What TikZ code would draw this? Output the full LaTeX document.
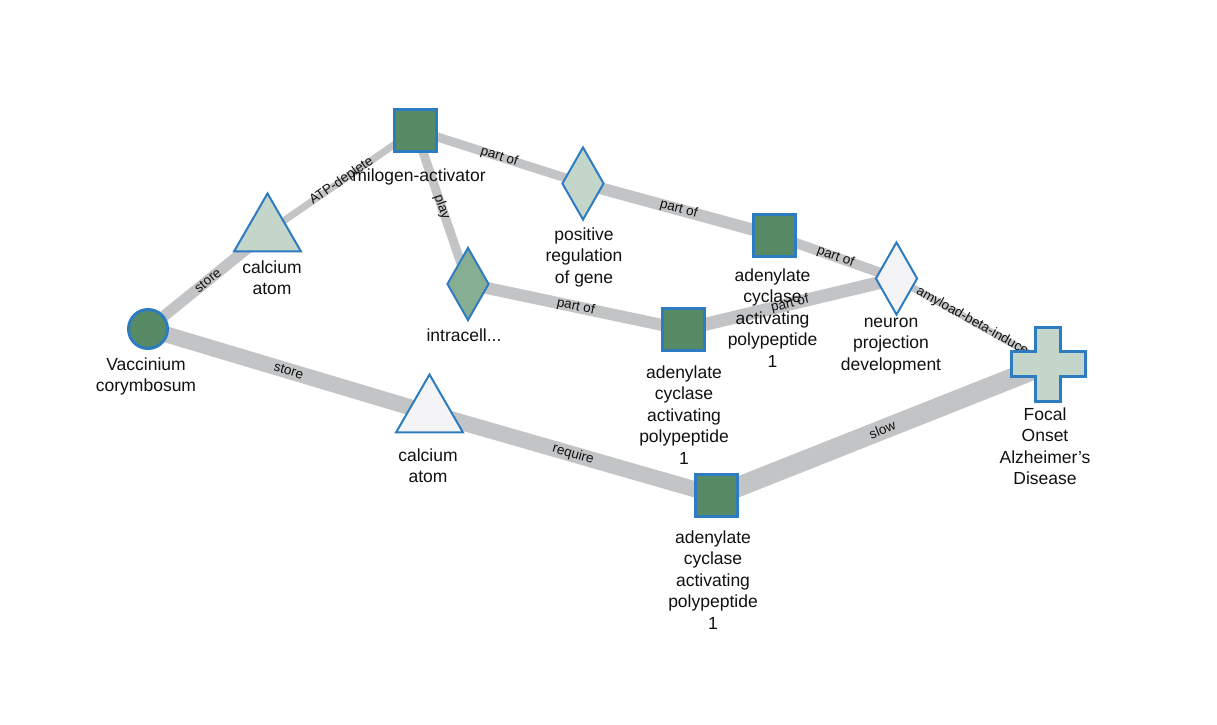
\documentclass[tikz,border=0pt]{standalone}
\usepackage{fontspec}
\setmainfont{Liberation Sans}
\usetikzlibrary{shapes.geometric,backgrounds}
\definecolor{dkgreen}{HTML}{568B66}
\definecolor{mdgreen}{HTML}{86AE92}
\definecolor{ltgreen}{HTML}{C4D6CA}
\definecolor{offwhite}{HTML}{F4F4F6}
\definecolor{nodeblue}{HTML}{2D7CC1}
\definecolor{edgegray}{HTML}{C3C4C6}
\definecolor{txt}{HTML}{111111}
\tikzset{
  sqbox/.style={rectangle, minimum size=42pt, inner sep=0pt, fill=dkgreen, draw=nodeblue, line width=3pt},
  circbox/.style={circle, minimum size=39pt, inner sep=0pt, fill=dkgreen, draw=nodeblue, line width=3pt},
  tribox/.style={regular polygon, regular polygon sides=3, minimum size=77pt, inner sep=0pt, draw=nodeblue, line width=2pt},
  diabox/.style={diamond, minimum width=42pt, minimum height=73pt, inner sep=0pt, draw=nodeblue, line width=2pt},
  crossbox/.style={fill=ltgreen, draw=nodeblue, line width=3pt, line join=miter},
  lbl/.style={anchor=north, align=center, inner sep=0pt, text=txt, font=\fontsize{17.5}{21.5}\selectfont},
  edge/.style={draw=edgegray},
  elbl/.style={midway, sloped, inner sep=1pt, text=txt, font=\fontsize{13.5}{16}\selectfont},
}
\begin{document}
\begin{tikzpicture}[x=1pt,y=-1pt]
\useasboundingbox (0,0) rectangle (1217,724);
% nodes
\node[circbox] (V) at (148,329) {};
\node[tribox, fill=ltgreen] (C1) at (267.5,232) {};
\node[tribox, fill=offwhite] (C2) at (429.5,413) {};
\node[sqbox] (M) at (415.5,130) {};
\node[diabox, fill=mdgreen] (I) at (468,284) {};
\node[diabox, fill=ltgreen] (P) at (583,183.5) {};
\node[sqbox] (A1) at (774.5,235.5) {};
\node[sqbox] (A2) at (683.5,329.5) {};
\node[diabox, fill=offwhite] (N) at (896.5,278.5) {};
\node[sqbox] (A3) at (716.5,495.5) {};
\node[circle, minimum size=74pt, inner sep=0pt] (F) at (1048,364) {};
\draw[crossbox] (F.center) ++(-12.75,-37) -- ++(25.5,0) -- ++(0,24.25) -- ++(24.25,0) -- ++(0,25.5) -- ++(-24.25,0) -- ++(0,24.25) -- ++(-25.5,0) -- ++(0,-24.25) -- ++(-24.25,0) -- ++(0,-25.5) -- ++(24.25,0) -- cycle;
% labels
\node[lbl] (V-l) at (146,355) {\strut Vaccinium\\corymbosum};
\node[lbl] (C1-l) at (272,258) {\strut calcium\\atom};
\node[lbl] (C2-l) at (428,446) {\strut calcium\\atom};
\node[lbl] (M-l) at (419,166) {\strut milogen-activator};
\node[lbl] (I-l) at (464,326) {\strut intracell...};
\node[lbl] (P-l) at (584,225) {\strut positive\\regulation\\of gene};
\node[lbl] (A1-l) at (772.5,266) {\strut adenylate\\cyclase\\activating\\polypeptide\\1};
\node[lbl] (A2-l) at (684,363) {\strut adenylate\\cyclase\\activating\\polypeptide\\1};
\node[lbl] (N-l) at (891,312) {\strut neuron\\projection\\development};
\node[lbl] (F-l) at (1045,405) {\strut Focal\\Onset\\Alzheimer's\\Disease};
\node[lbl] (A3-l) at (713,528) {\strut adenylate\\cyclase\\activating\\polypeptide\\1};
% edges
\begin{pgfonlayer}{background}
\fill[white] (0,0) rectangle (1217,724);
\draw[edge, line width=11pt] (V.center) -- node[elbl] (e1) {store} (C1.center);
\draw[edge, line width=7pt] (C1.center) -- node[elbl] (e2) {ATP-deplete} (M.center);
\draw[edge, line width=9pt] (M.center) -- node[elbl] (e3) {part of} (P.center);
\draw[edge, line width=9pt] (M.center) -- node[elbl] (e4) {play} (I.center);
\draw[edge, line width=12pt] (P.center) -- node[elbl] (e5) {part of} (A1.center);
\draw[edge, line width=10pt] (A1.center) -- node[elbl] (e6) {part of} (N.center);
\draw[edge, line width=12pt] (I.center) -- node[elbl] (e7) {part of} (A2.center);
\draw[edge, line width=13pt] (A2.center) -- node[elbl] (e8) {part of} (N.center);
\draw[edge, line width=7pt] (N.center) -- node[elbl] (e9) {amyload-beta-induce} (F.center);
\draw[edge, line width=16pt] (V.center) -- node[elbl] (e10) {store} (C2.center);
\draw[edge, line width=16pt] (C2.center) -- node[elbl] (e11) {require} (A3.center);
\draw[edge, line width=20pt] (A3.center) -- node[elbl] (e12) {slow} (F.center);
\end{pgfonlayer}
\end{tikzpicture}
\end{document}
